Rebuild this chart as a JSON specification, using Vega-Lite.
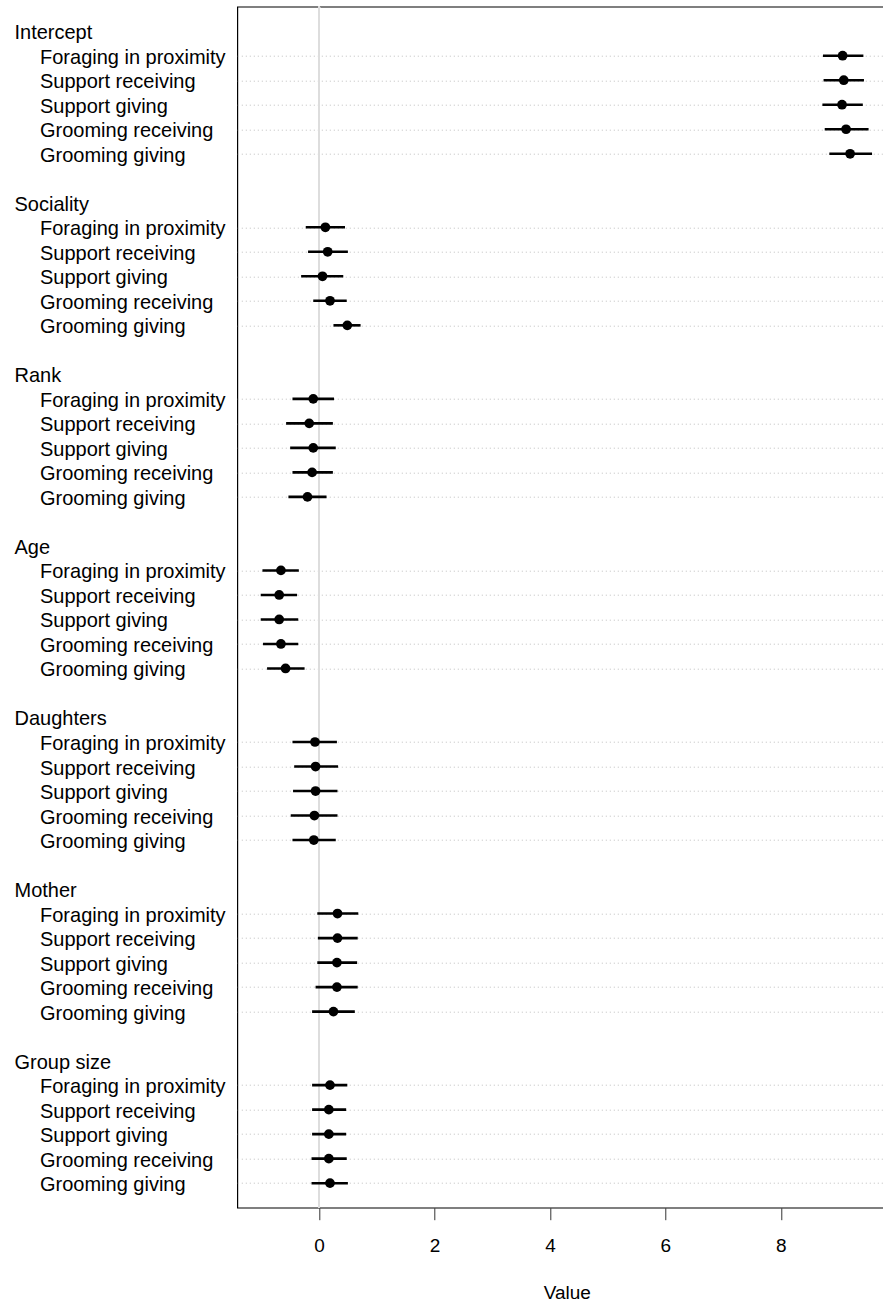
{
  "$schema": "https://vega.github.io/schema/vega-lite/v6.json",
  "autosize": {"type": "none"},
  "padding": {"left": 237.3, "top": 6.7, "right": 0, "bottom": 96},
  "width": 659,
  "height": 1201,
  "config": {
    "font": "Liberation Sans",
    "view": {"stroke": "#000000", "strokeWidth": 1.2}
  },
  "data": {
    "values": [
      {"row": "Intercept|Foraging in proximity", "est": 9.07, "lo": 8.73, "hi": 9.43},
      {"row": "Intercept|Support receiving", "est": 9.09, "lo": 8.74, "hi": 9.44},
      {"row": "Intercept|Support giving", "est": 9.06, "lo": 8.72, "hi": 9.42},
      {"row": "Intercept|Grooming receiving", "est": 9.13, "lo": 8.76, "hi": 9.52},
      {"row": "Intercept|Grooming giving", "est": 9.20, "lo": 8.84, "hi": 9.58},
      {"row": "Sociality|Foraging in proximity", "est": 0.11, "lo": -0.23, "hi": 0.45},
      {"row": "Sociality|Support receiving", "est": 0.15, "lo": -0.19, "hi": 0.50},
      {"row": "Sociality|Support giving", "est": 0.06, "lo": -0.31, "hi": 0.42},
      {"row": "Sociality|Grooming receiving", "est": 0.19, "lo": -0.10, "hi": 0.48},
      {"row": "Sociality|Grooming giving", "est": 0.49, "lo": 0.25, "hi": 0.72},
      {"row": "Rank|Foraging in proximity", "est": -0.10, "lo": -0.46, "hi": 0.26},
      {"row": "Rank|Support receiving", "est": -0.17, "lo": -0.57, "hi": 0.24},
      {"row": "Rank|Support giving", "est": -0.10, "lo": -0.50, "hi": 0.29},
      {"row": "Rank|Grooming receiving", "est": -0.12, "lo": -0.46, "hi": 0.24},
      {"row": "Rank|Grooming giving", "est": -0.20, "lo": -0.53, "hi": 0.13},
      {"row": "Age|Foraging in proximity", "est": -0.66, "lo": -0.98, "hi": -0.35},
      {"row": "Age|Support receiving", "est": -0.69, "lo": -1.01, "hi": -0.38},
      {"row": "Age|Support giving", "est": -0.69, "lo": -1.01, "hi": -0.36},
      {"row": "Age|Grooming receiving", "est": -0.66, "lo": -0.97, "hi": -0.36},
      {"row": "Age|Grooming giving", "est": -0.58, "lo": -0.90, "hi": -0.25},
      {"row": "Daughters|Foraging in proximity", "est": -0.07, "lo": -0.46, "hi": 0.31},
      {"row": "Daughters|Support receiving", "est": -0.06, "lo": -0.43, "hi": 0.33},
      {"row": "Daughters|Support giving", "est": -0.06, "lo": -0.45, "hi": 0.32},
      {"row": "Daughters|Grooming receiving", "est": -0.08, "lo": -0.49, "hi": 0.32},
      {"row": "Daughters|Grooming giving", "est": -0.09, "lo": -0.46, "hi": 0.29},
      {"row": "Mother|Foraging in proximity", "est": 0.32, "lo": -0.03, "hi": 0.68},
      {"row": "Mother|Support receiving", "est": 0.32, "lo": -0.02, "hi": 0.67},
      {"row": "Mother|Support giving", "est": 0.31, "lo": -0.03, "hi": 0.66},
      {"row": "Mother|Grooming receiving", "est": 0.31, "lo": -0.06, "hi": 0.67},
      {"row": "Mother|Grooming giving", "est": 0.25, "lo": -0.12, "hi": 0.62},
      {"row": "Group size|Foraging in proximity", "est": 0.19, "lo": -0.12, "hi": 0.49},
      {"row": "Group size|Support receiving", "est": 0.17, "lo": -0.12, "hi": 0.47},
      {"row": "Group size|Support giving", "est": 0.17, "lo": -0.12, "hi": 0.47},
      {"row": "Group size|Grooming receiving", "est": 0.17, "lo": -0.13, "hi": 0.48},
      {"row": "Group size|Grooming giving", "est": 0.19, "lo": -0.13, "hi": 0.50}
    ]
  },
  "encoding": {
    "y": {
      "field": "row",
      "type": "nominal",
      "scale": {
        "type": "point",
        "padding": 1,
        "domain": [
          "Intercept", "Intercept|Foraging in proximity", "Intercept|Support receiving", "Intercept|Support giving", "Intercept|Grooming receiving", "Intercept|Grooming giving", "~Intercept",
          "Sociality", "Sociality|Foraging in proximity", "Sociality|Support receiving", "Sociality|Support giving", "Sociality|Grooming receiving", "Sociality|Grooming giving", "~Sociality",
          "Rank", "Rank|Foraging in proximity", "Rank|Support receiving", "Rank|Support giving", "Rank|Grooming receiving", "Rank|Grooming giving", "~Rank",
          "Age", "Age|Foraging in proximity", "Age|Support receiving", "Age|Support giving", "Age|Grooming receiving", "Age|Grooming giving", "~Age",
          "Daughters", "Daughters|Foraging in proximity", "Daughters|Support receiving", "Daughters|Support giving", "Daughters|Grooming receiving", "Daughters|Grooming giving", "~Daughters",
          "Mother", "Mother|Foraging in proximity", "Mother|Support receiving", "Mother|Support giving", "Mother|Grooming receiving", "Mother|Grooming giving", "~Mother",
          "Group size", "Group size|Foraging in proximity", "Group size|Support receiving", "Group size|Support giving", "Group size|Grooming receiving", "Group size|Grooming giving"
        ]
      },
      "axis": {
        "title": null,
        "domain": false,
        "ticks": false,
        "tickSize": 0,
        "labelAlign": "left",
        "labelBaseline": "middle",
        "labelPadding": 223.3,
        "labelOffset": 1.5,
        "labelLimit": 0,
        "labelFontSize": 20,
        "labelColor": "#000000",
        "labelExpr": "slice(datum.value,0,1)=='~' ? '' : (indexof(datum.value,'|')<0 ? datum.value : '\u200b\u2002\u2002\u00a0' + slice(datum.value, indexof(datum.value,'|')+1))",
        "grid": true,
        "gridColor": "#bebebe",
        "gridDash": [1, 3],
        "gridWidth": 1,
        "gridOpacity": {"condition": {"test": "indexof(datum.value,'|')>=0", "value": 1}, "value": 0}
      }
    }
  },
  "layer": [
    {
      "mark": {"type": "rule", "color": "#dddddd", "strokeWidth": 2},
      "encoding": {"x": {"datum": 0}, "y": null}
    },
    {
      "mark": {"type": "rule", "color": "#000000", "strokeWidth": 2.6},
      "encoding": {
        "x": {
          "field": "lo",
          "type": "quantitative",
          "scale": {"domain": [-1.4157, 10.0], "nice": false, "zero": false},
          "axis": {
            "values": [0, 2, 4, 6, 8],
            "format": "d",
            "grid": false,
            "domain": false,
            "tickSize": 12,
            "tickColor": "#333333",
            "tickWidth": 1,
            "labelFontSize": 19,
            "labelColor": "#000000",
            "labelBaseline": "middle",
            "labelPadding": 25.5,
            "labelFlush": false,
            "title": "Value",
            "titleFontSize": 19,
            "titleFontWeight": "normal",
            "titleColor": "#000000",
            "titlePadding": 28
          }
        },
        "x2": {"field": "hi"}
      }
    },
    {
      "mark": {"type": "point", "filled": true, "color": "#000000", "opacity": 1, "size": 95},
      "encoding": {"x": {"field": "est", "type": "quantitative"}}
    }
  ]
}
